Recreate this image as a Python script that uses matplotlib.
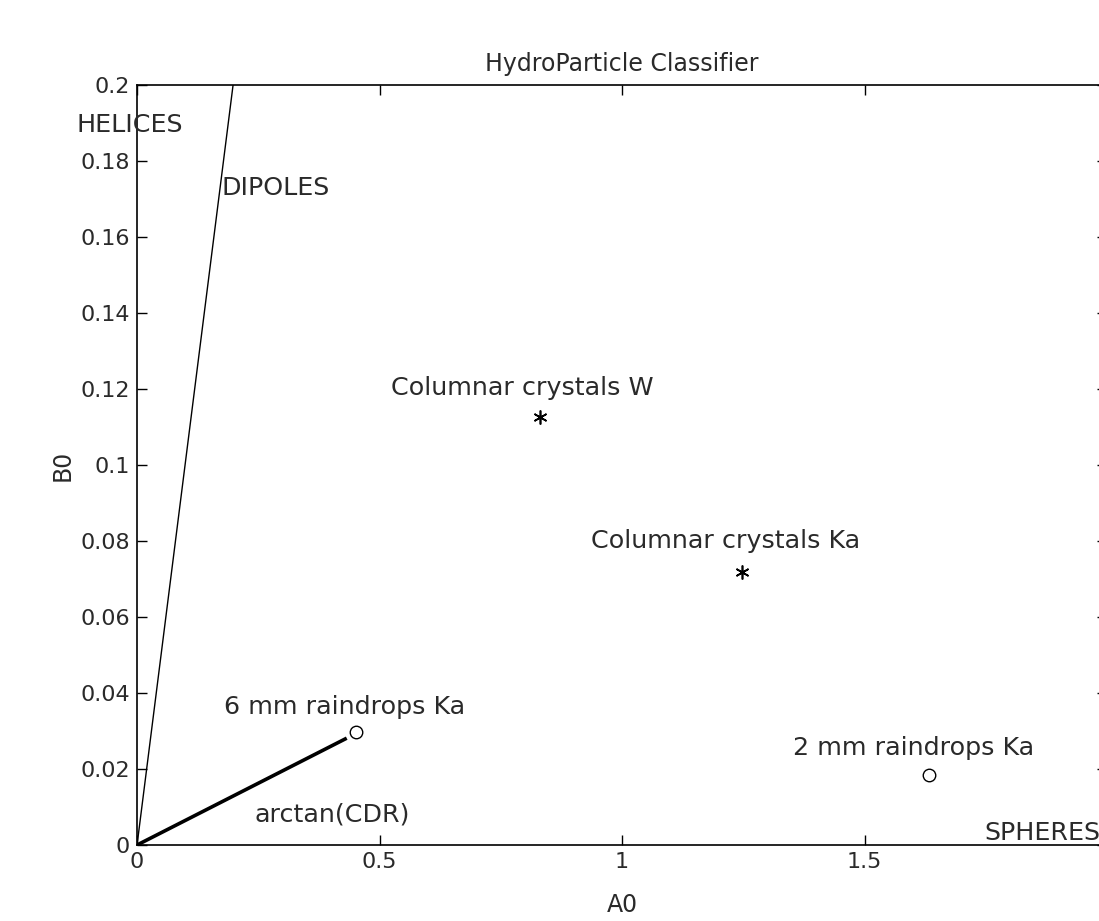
import matplotlib
matplotlib.use("Agg")
import matplotlib.pyplot as plt

# points (A0, B0)
crystal_names = ["Columnar crystals W", "Columnar crystals Ka"]
crystal_a0 = [0.831, 1.247]
crystal_b0 = [0.1126, 0.0718]

drop_names = ["6 mm raindrops Ka", "2 mm raindrops Ka"]
drop_a0 = [0.452, 1.633]
drop_b0 = [0.0297, 0.0184]

# label positions (left edge, vertical centre)
crystal_lbl_x = [0.524, 0.936]
crystal_lbl_y = [0.1203, 0.0800]
drop_lbl_x = [0.179, 1.353]
drop_lbl_y = [0.0363, 0.0255]

dipole_line_x = [0, 0.198]
dipole_line_y = [0, 0.2]
cdr_line_x = [0, 0.429]
cdr_line_y = [0, 0.0279]

xticks = [0, 0.5, 1, 1.5, 2]
xtick_labels = ["0", "0.5", "1", "1.5", ""]
yticks = [0, 0.02, 0.04, 0.06, 0.08, 0.1, 0.12, 0.14, 0.16, 0.18, 0.2]
ytick_labels = ["0", "0.02", "0.04", "0.06", "0.08", "0.1", "0.12", "0.14", "0.16", "0.18", "0.2"]

fig = plt.figure(figsize=(10.99, 9.21), dpi=100)
ax = fig.add_axes([0.1247, 0.0825, 0.8826, 0.8252])

ax.plot(dipole_line_x, dipole_line_y, color="k", lw=1)
ax.plot(cdr_line_x, cdr_line_y, color="k", lw=2.6)
ax.plot(crystal_a0, crystal_b0, ls="none", marker=(6, 2, 0), ms=10, mew=1.2, color="k")
ax.plot(drop_a0, drop_b0, ls="none", marker="o", ms=9, mfc="white", mec="k", mew=1)

txt = dict(fontsize=18.3, color="#2a2a2a", va="center", family="DejaVu Sans")
for name, x, y in zip(crystal_names, crystal_lbl_x, crystal_lbl_y):
    ax.text(x, y, name, **txt)
for name, x, y in zip(drop_names, drop_lbl_x, drop_lbl_y):
    ax.text(x, y, name, **txt)
ax.text(0.243, 0.0079, "arctan(CDR)", **txt)
ax.text(-0.124, 0.1895, "HELICES", clip_on=False, **txt)
ax.text(0.175, 0.1729, "DIPOLES", **txt)
ax.text(1.748, 0.0032, "SPHERES", **txt)

ax.set_xlim(0, 2)
ax.set_ylim(0, 0.2)
ax.set_xticks(xticks)
ax.set_xticklabels(xtick_labels)
ax.set_yticks(yticks)
ax.set_yticklabels(ytick_labels)
ax.tick_params(direction="in", length=7, width=1, top=True, right=True,
               labelsize=16, labelcolor="#2a2a2a", pad=5)
for s in ax.spines.values():
    s.set_linewidth(1.2)

ax.set_title("HydroParticle Classifier", fontsize=17, color="#2a2a2a", pad=10)
ax.set_xlabel("A0", fontsize=17, color="#2a2a2a", labelpad=15)
ax.set_ylabel("B0", fontsize=17, color="#2a2a2a", labelpad=4)

fig.savefig("out.png", dpi=100)
